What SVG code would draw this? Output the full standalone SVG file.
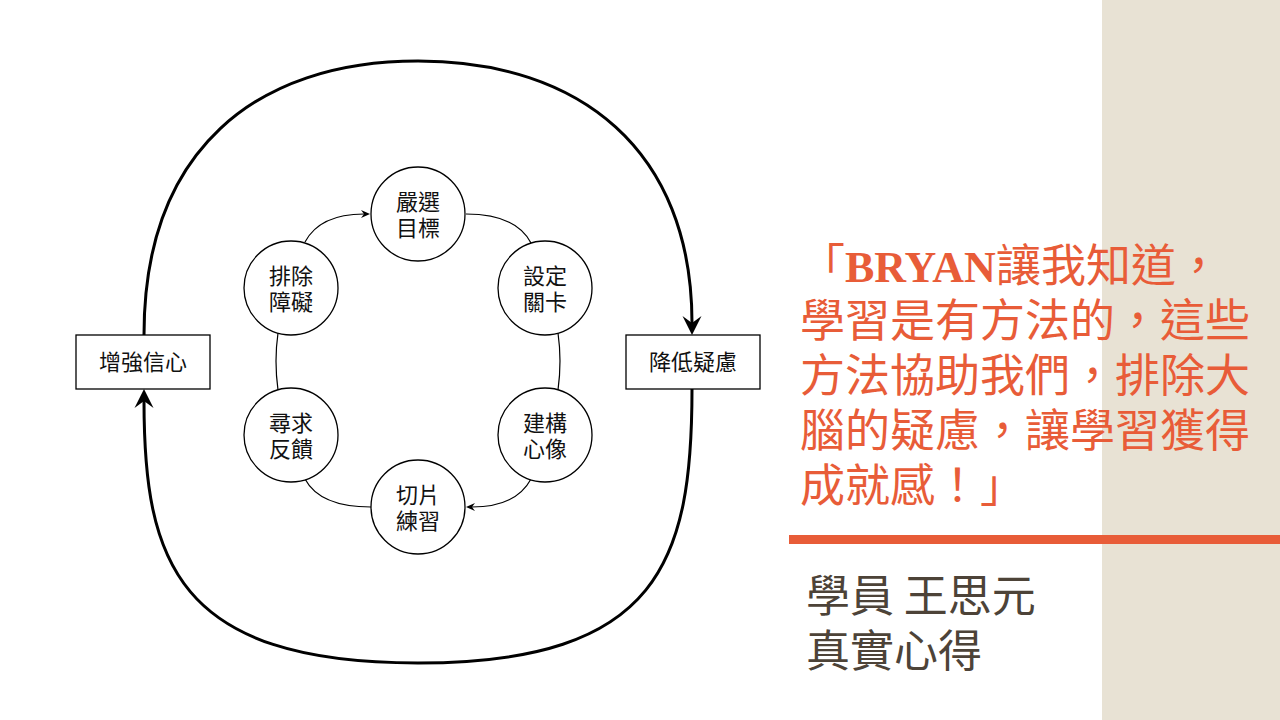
<svg xmlns="http://www.w3.org/2000/svg" width="1280" height="720" viewBox="0 0 1280 720">
  <style>
    .node circle { fill: #ffffff; stroke: #000000; stroke-width: 1.3; }
    .node rect { fill: #ffffff; stroke: #000000; stroke-width: 1.3; }
    .lbl { font-family: "Noto Sans CJK TC", "Noto Sans CJK SC", sans-serif; font-size: 22px; fill: #111111; text-anchor: middle; }
    .thin { fill: none; stroke: #000000; stroke-width: 1.2; }
    .thick { fill: none; stroke: #000000; stroke-width: 3; }
    .quote { font-family: "Noto Sans CJK TC", "Noto Sans CJK SC", sans-serif; font-size: 45px; fill: #E85C38; }
    .brand { font-family: "Liberation Serif", serif; font-weight: bold; font-size: 44px; }
    .sig { font-family: "Noto Sans CJK TC", "Noto Sans CJK SC", sans-serif; font-size: 44px; fill: #4D4338; }
  </style>
  <defs>
    <marker id="bigArrow" markerUnits="userSpaceOnUse" viewBox="0 0 20 20" refX="7" refY="10" markerWidth="20" markerHeight="20" orient="auto">
      <path d="M0,0.5 L19,10 L0,19.5 L7,10 Z" fill="#000000"/>
    </marker>
    <marker id="smallArrow" markerUnits="userSpaceOnUse" viewBox="0 0 10 10" refX="3" refY="5" markerWidth="10" markerHeight="10" orient="auto">
      <path d="M0,1 L9,5 L0,9 L3,5 Z" fill="#000000"/>
    </marker>
  </defs>

  <rect x="0" y="0" width="1280" height="720" fill="#ffffff"/>
  <rect x="1102" y="0" width="178" height="720" fill="#E8E2D4"/>
  <rect x="789" y="535" width="491" height="9" fill="#E85C38"/>

  <g id="connectors">
    <path class="thick" d="M144,335 C144,150 256,61 418,61 C580,61 692,150 692,323" marker-end="url(#bigArrow)"/>
    <path class="thick" d="M692,389 C692,560 660,663 418,663 C176,663 144,560 144,401" marker-end="url(#bigArrow)"/>
    <path class="thin" d="M305,242 Q320,214 364,214" marker-end="url(#smallArrow)"/>
    <path class="thin" d="M466,214 Q516,214 531,243"/>
    <path class="thin" d="M558,333 Q562,361 558,390"/>
    <path class="thin" d="M531,479 Q516,507 472,507" marker-end="url(#smallArrow)"/>
    <path class="thin" d="M305,479 Q320,507 371,507"/>
    <path class="thin" d="M278,333 Q274,361 278,390"/>
  </g>

  <g id="node-boost" class="node">
    <rect x="76" y="335" width="134" height="54"/>
    <text class="lbl" x="143" y="370">增強信心</text>
  </g>
  <g id="node-reduce" class="node">
    <rect x="626" y="335" width="134" height="54"/>
    <text class="lbl" x="693" y="370">降低疑慮</text>
  </g>

  <g id="node-goal" class="node">
    <circle cx="418" cy="214" r="47"/>
    <text class="lbl"><tspan x="418" y="210">嚴選</tspan><tspan x="418" dy="26">目標</tspan></text>
  </g>
  <g id="node-level" class="node">
    <circle cx="545" cy="288" r="47"/>
    <text class="lbl"><tspan x="545" y="284">設定</tspan><tspan x="545" dy="26">關卡</tspan></text>
  </g>
  <g id="node-image" class="node">
    <circle cx="545" cy="435" r="47"/>
    <text class="lbl"><tspan x="545" y="431">建構</tspan><tspan x="545" dy="26">心像</tspan></text>
  </g>
  <g id="node-slice" class="node">
    <circle cx="418" cy="507" r="47"/>
    <text class="lbl"><tspan x="418" y="503">切片</tspan><tspan x="418" dy="26">練習</tspan></text>
  </g>
  <g id="node-feedback" class="node">
    <circle cx="291" cy="435" r="47"/>
    <text class="lbl"><tspan x="291" y="431">尋求</tspan><tspan x="291" dy="26">反饋</tspan></text>
  </g>
  <g id="node-obstacle" class="node">
    <circle cx="291" cy="288" r="47"/>
    <text class="lbl"><tspan x="291" y="284">排除</tspan><tspan x="291" dy="26">障礙</tspan></text>
  </g>

  <g id="quote">
    <text class="quote"><tspan x="800" y="282">「<tspan class="brand">BRYAN</tspan>讓我知道，</tspan><tspan x="800" y="337">學習是有方法的，這些</tspan><tspan x="800" y="392">方法協助我們，排除大</tspan><tspan x="800" y="447">腦的疑慮，讓學習獲得</tspan><tspan x="800" y="502">成就感！」</tspan></text>
  </g>

  <g id="signature">
    <text class="sig"><tspan x="806" y="612">學員 王思元</tspan><tspan x="806" y="667">真實心得</tspan></text>
  </g>
</svg>
